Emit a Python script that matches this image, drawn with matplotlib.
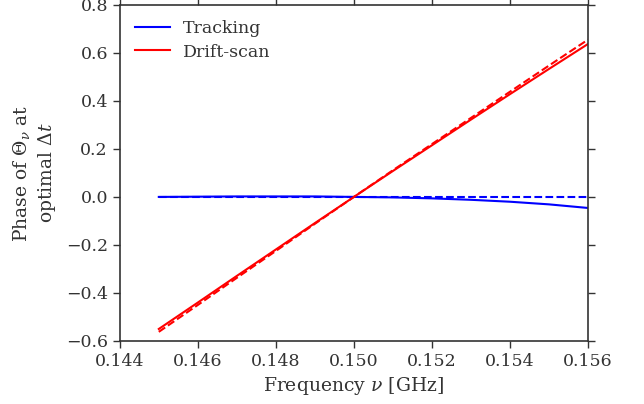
import numpy as np
import matplotlib
matplotlib.use('Agg')
import matplotlib.pyplot as plt

plt.rcParams['font.family'] = 'DejaVu Serif'
plt.rcParams['mathtext.fontset'] = 'dejavuserif'
plt.rcParams['font.size'] = 12

freq = [0.145, 0.146, 0.147, 0.148, 0.149, 0.150,
        0.151, 0.152, 0.153, 0.154, 0.155, 0.156]

tracking = [0.000, 0.001, 0.002, 0.002, 0.002, 0.000,
            -0.002, -0.006, -0.012, -0.020, -0.031, -0.046]
tracking_dashed = [0.0] * 12

drift = [-0.550, -0.440, -0.329, -0.219, -0.109, 0.000,
         0.108, 0.215, 0.322, 0.428, 0.533, 0.637]
drift_dashed = [-0.562, -0.450, -0.337, -0.225, -0.112, 0.000,
                0.111, 0.220, 0.329, 0.438, 0.547, 0.655]

fig = plt.figure(figsize=(6.44, 4.04), dpi=100)
ax = fig.add_axes([0.186, 0.156, 0.727, 0.832])

ax.plot(freq, tracking, color='blue', lw=1.5, label='Tracking')
ax.plot(freq, drift, color='red', lw=1.5, label='Drift-scan')
ax.plot(freq, tracking_dashed, color='blue', lw=1.5, ls='--')
ax.plot(freq, drift_dashed, color='red', lw=1.5, ls='--')

ax.set_xlim(0.144, 0.156)
ax.set_ylim(-0.6, 0.8)
ax.set_xticks(np.arange(0.144, 0.1561, 0.002))
ax.set_xticklabels(['0.144', '0.146', '0.148', '0.150', '0.152', '0.154', '0.156'])
ax.set_yticks(np.arange(-0.6, 0.81, 0.2))
ax.set_yticklabels(['\u22120.6', '\u22120.4', '\u22120.2', '0.0', '0.2', '0.4', '0.6', '0.8'])
ax.tick_params(direction='out', top=True, right=True, length=5, width=1,
               labelsize=12.5, labelcolor='#333333', color='#333333')
for s in ax.spines.values():
    s.set_color('#333333')
    s.set_linewidth(1.2)

ax.set_xlabel(r'Frequency $\nu$ [GHz]', color='#333333', fontsize=13.5)
ax.set_ylabel('Phase of $\\Theta_\\nu$ at\noptimal $\\Delta t$', color='#333333',
              fontsize=13.5, labelpad=6)
leg = ax.legend(loc='upper left', frameon=False, handlelength=2.0,
                handletextpad=0.75, labelspacing=0.35, fontsize=12.5)
for t in leg.get_texts():
    t.set_color('#333333')

fig.savefig('out.png', dpi=100)
